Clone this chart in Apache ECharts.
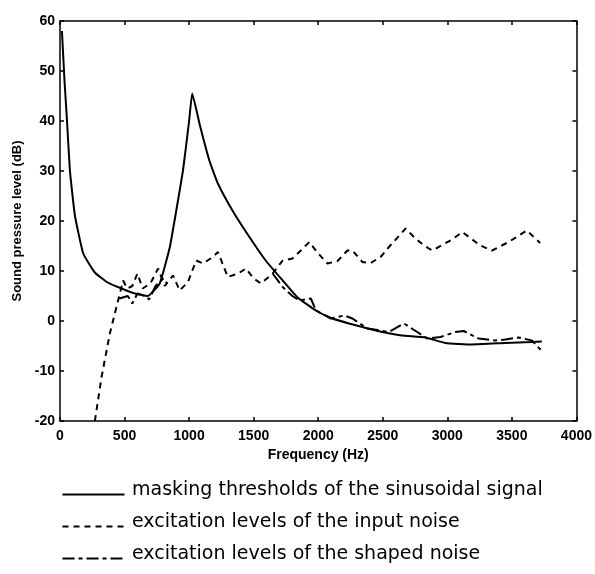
<!DOCTYPE html>
<html>
<head>
<meta charset="utf-8">
<script src="https://cdn.jsdelivr.net/npm/echarts@6/dist/echarts.min.js"></script>
<style>html,body{margin:0;padding:0;background:#fff;}#c{width:595px;height:574px;}</style>
</head>
<body>
<div id="c"></div>
<script>
// ---- data ----
var xTicks = [0, 500, 1000, 1500, 2000, 2500, 3000, 3500, 4000];
var yTicks = [-20, -10, 0, 10, 20, 30, 40, 50, 60];
var xName = 'Frequency (Hz)';
var yName = 'Sound pressure level (dB)';
var legendNames = [
  'masking thresholds of the sinusoidal signal',
  'excitation levels of the input noise',
  'excitation levels of the shaped noise'
];

var maskFreq = [15, 35, 52, 77, 116, 180, 270, 370, 476, 580, 680, 772, 850, 900, 952, 1000, 1024, 1085, 1158, 1223, 1338, 1467, 1596, 1725, 1840, 1982, 2100, 2239, 2400, 2497, 2650, 2831, 2986, 3192, 3449, 3655, 3732];
var maskLevel = [58, 48, 41, 30, 21, 13.5, 9.7, 7.7, 6.5, 5.5, 5, 7.5, 14.7, 22, 30, 40, 45.5, 39, 32, 27.5, 22, 16.8, 12, 8.1, 4.7, 2.1, 0.6, -0.5, -1.6, -2.2, -2.9, -3.3, -4.4, -4.7, -4.4, -4.2, -4.1];

var inputFreq = [270, 322, 386, 450, 489, 520, 560, 600, 640, 700, 760, 811, 875, 927, 991, 1055, 1107, 1184, 1223, 1300, 1380, 1440, 1500, 1557, 1647, 1725, 1800, 1853, 1931, 2000, 2072, 2150, 2226, 2265, 2342, 2406, 2483, 2548, 2677, 2741, 2819, 2883, 3038, 3115, 3256, 3346, 3475, 3616, 3719];
var inputLevel = [-20, -11.2, -2.5, 4.1, 8.1, 6.5, 7, 9.5, 6.5, 7.5, 10.5, 7, 9.1, 6.1, 7.8, 12.1, 11.5, 12.8, 13.8, 8.8, 9.5, 10.5, 8.5, 7.5, 9.5, 12.1, 12.5, 13.8, 15.8, 13.5, 11.5, 12, 14.1, 14.1, 11.8, 11.6, 12.8, 14.8, 18.5, 16.8, 15.1, 14.1, 16.3, 17.8, 15.1, 14.1, 15.8, 18.1, 15.6];

// shaped noise: branch below the input noise (460-830 Hz), then follows the threshold (null = shared with input noise curve)
var shapedFreq = [460, 525, 560, 600, 660, 690, 740, 800, 830, 1200, 1647, 1725, 1800, 1853, 1943, 1982, 2098, 2201, 2265, 2381, 2548, 2664, 2767, 2844, 2947, 3063, 3127, 3243, 3372, 3449, 3552, 3655, 3732];
var shapedLevel = [4.5, 5, 3.5, 5.5, 5, 4.3, 7, 8.5, 7.5, null, 9.5, 6.8, 5, 4.1, 4.5, 2.1, 0.5, 1.1, 0.5, -1.5, -2.2, -0.5, -2.2, -3.5, -3.2, -2.2, -2, -3.5, -3.9, -3.7, -3.3, -3.9, -6];

function pairs(xs, ys) { return xs.map(function (x, i) { return [x, ys[i]]; }); }

var chart = echarts.init(document.getElementById('c'), null, { renderer: 'canvas' });
var FONT = '"Liberation Sans", Arial, sans-serif';
var axisLineStyle = { color: '#000', width: 1.5 };
var tickStyle = { show: true, inside: true, length: 4, lineStyle: { color: '#000', width: 1.5 } };

var gridL = 60, gridR = 18, gridT = 21, gridB = 153;

var legendY = [492, 524, 556];
var legendGraphics = [];
var dashes = [null, [6, 5], [12, 4, 4, 4]];
for (var i = 0; i < 3; i++) {
  legendGraphics.push({
    type: 'line', left: 60, top: legendY[i],
    shape: { x1: 0, y1: 0, x2: 62, y2: 0 },
    style: { stroke: '#000', lineWidth: 2, lineDash: dashes[i] }
  });
  legendGraphics.push({
    type: 'text', left: 132, top: legendY[i] - 11,
    style: { text: legendNames[i], fill: '#000', font: '19px "DejaVu Sans", sans-serif' }
  });
}

chart.setOption({
  animation: false,
  backgroundColor: '#fff',
  grid: { left: gridL, right: gridR, top: gridT, bottom: gridB, containLabel: false },
  xAxis: [{
    type: 'value', min: 0, max: 4000, interval: 500, position: 'bottom',
    name: xName, nameLocation: 'middle', nameGap: 23,
    nameTextStyle: { color: '#000', fontFamily: FONT, fontSize: 14, fontWeight: 'bold' },
    axisLine: { show: true, onZero: false, lineStyle: axisLineStyle },
    axisTick: tickStyle,
    axisLabel: { color: '#000', fontFamily: FONT, fontSize: 14, fontWeight: 'bold', margin: 8,
      formatter: function (v) { return xTicks.indexOf(v) >= 0 ? String(v) : ''; } },
    splitLine: { show: false }
  }, {
    type: 'value', min: 0, max: 4000, interval: 500, position: 'top',
    axisLine: { show: true, onZero: false, lineStyle: axisLineStyle },
    axisTick: tickStyle,
    axisLabel: { show: false }, splitLine: { show: false }
  }],
  yAxis: [{
    type: 'value', min: -20, max: 60, interval: 10, position: 'left',
    name: yName, nameLocation: 'middle', nameGap: 36, nameRotate: 90,
    nameTextStyle: { color: '#000', fontFamily: FONT, fontSize: 13, fontWeight: 'bold' },
    axisLine: { show: true, onZero: false, lineStyle: axisLineStyle },
    axisTick: tickStyle,
    axisLabel: { color: '#000', fontFamily: FONT, fontSize: 14, fontWeight: 'bold', margin: 5,
      formatter: function (v) { return yTicks.indexOf(v) >= 0 ? String(v) : ''; } },
    splitLine: { show: false }
  }, {
    type: 'value', min: -20, max: 60, interval: 10, position: 'right',
    axisLine: { show: true, onZero: false, lineStyle: axisLineStyle },
    axisTick: tickStyle,
    axisLabel: { show: false }, splitLine: { show: false }
  }],
  series: [{
    name: legendNames[0], type: 'line', showSymbol: false, smooth: 0.12,
    data: pairs(maskFreq, maskLevel),
    lineStyle: { color: '#000', width: 2 }
  }, {
    name: legendNames[1], type: 'line', showSymbol: false,
    data: pairs(inputFreq, inputLevel),
    lineStyle: { color: '#000', width: 2, type: [6, 5] }
  }, {
    name: legendNames[2], type: 'line', showSymbol: false, connectNulls: false,
    data: pairs(shapedFreq, shapedLevel),
    lineStyle: { color: '#000', width: 2, type: [12, 4, 4, 4] }
  }],
  graphic: legendGraphics
});
</script>
</body>
</html>
